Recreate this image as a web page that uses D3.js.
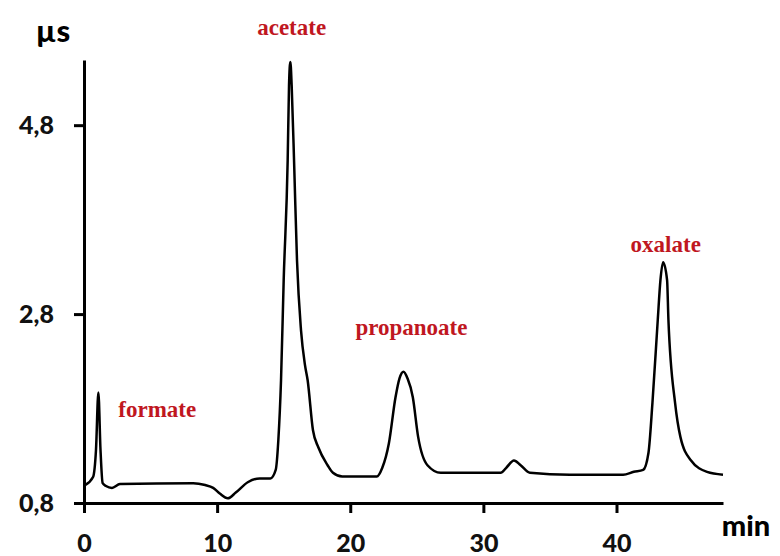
<!DOCTYPE html>
<html lang="en">
<head>
<meta charset="UTF-8">
<title>Chromatogram</title>
<script src="https://cdn.jsdelivr.net/npm/d3@7"></script>
<style>
    body { margin: 0; background: #fff; }
    svg { display: block; }
    .tick text { font-family: Lato, "Open Sans", sans-serif; font-weight: 900; font-size: 25px; fill: #111; }
    .peak { font-family: "Liberation Serif", "DejaVu Serif", serif; font-weight: bold; font-size: 23px; fill: #c0171f; }
</style>
</head>
<body>
<svg id="chart" width="780" height="556"></svg>
<script>
// retention time (min) and conductivity (µS)
const times = [0.08, 0.68, 0.9, 1.08, 1.24, 1.4, 1.65, 2.1, 2.7, 8.2, 9.1, 9.7, 10.2, 10.8, 11.4, 12.3, 13.2, 14.0,
    14.4, 14.6, 14.8, 15.0, 15.3, 15.4, 15.5, 15.6, 15.8, 16.0, 16.3, 16.6, 16.8, 17.2, 17.6, 18.3, 18.7, 19.4,
    22.0, 22.4, 22.9, 23.4, 23.7, 24.0, 24.3, 24.7, 25.1, 25.8, 26.8, 31.3, 31.7, 32.3, 32.8, 33.5, 36.5,
    40.5, 41.3, 42.0, 42.4, 42.7, 43.1, 43.3, 43.5, 43.8, 43.9, 44.4, 44.8, 45.6, 46.8, 48.0];
const signal = [0.99, 1.075, 1.36, 1.97, 1.36, 1.01, 0.98, 0.96, 1.0, 1.01, 0.99, 0.96, 0.90, 0.85, 0.91, 1.02, 1.06, 1.06,
    1.15, 1.47, 2.1, 3.16, 4.43, 5.22, 5.47, 5.22, 4.32, 3.37, 2.63, 2.26, 2.1, 1.57, 1.39, 1.2, 1.12, 1.08,
    1.08, 1.17, 1.43, 1.92, 2.12, 2.19, 2.12, 1.92, 1.50, 1.2, 1.12, 1.12, 1.17, 1.25, 1.2, 1.12, 1.10,
    1.10, 1.13, 1.15, 1.33, 1.86, 2.74, 3.16, 3.35, 3.16, 2.74, 1.86, 1.5, 1.25, 1.13, 1.10];

const xTicks = [0, 10, 20, 30, 40];
const yTicks = [0.8, 2.8, 4.8];

const peakNames = ["formate", "acetate", "propanoate", "oxalate"];
const peakTimes = [5.5, 15.6, 24.6, 43.7];
const peakLabelValues = [1.71, 5.75, 2.58, 3.46];

const margin = {top: 60, left: 84};
const width = 639, height = 443;

const svg = d3.select("#chart");
const g = svg.append("g").attr("transform", `translate(${margin.left},${margin.top})`);

const x = d3.scaleLinear().domain([0, 48]).range([0, width]);
const y = d3.scaleLinear().domain([0.8, 5.49]).range([height, 0]);

const data = times.map((t, i) => ({t: t, v: signal[i]}));

const line = d3.line()
    .x(d => x(d.t))
    .y(d => y(d.v))
    .curve(d3.curveMonotoneX);

g.append("path")
    .datum(data)
    .attr("d", line)
    .attr("fill", "none")
    .attr("stroke", "#000")
    .attr("stroke-width", 2.5)
    .attr("stroke-linejoin", "round");

const xAxis = g.append("g")
    .attr("transform", `translate(0,${height})`)
    .call(d3.axisBottom(x).tickValues(xTicks).tickSize(10).tickSizeOuter(0).tickPadding(21));

const yAxis = g.append("g")
    .call(d3.axisLeft(y).tickValues(yTicks).tickSize(10).tickSizeOuter(0).tickPadding(20)
        .tickFormat(d => d3.format(".1f")(d).replace(".", ",")));

[xAxis, yAxis].forEach(a => {
    a.select(".domain").attr("stroke", "#000").attr("stroke-width", 3);
    a.selectAll(".tick line").attr("stroke", "#000").attr("stroke-width", 3);
});

// axis units
svg.append("text")
    .attr("x", 53).attr("y", 42)
    .attr("text-anchor", "middle")
    .style("font-family", "Lato, 'Open Sans', sans-serif")
    .style("font-weight", "900").style("font-size", "31px")
    .text("µs");

svg.append("text")
    .attr("x", 746).attr("y", 536)
    .attr("text-anchor", "middle")
    .style("font-family", "Lato, 'Open Sans', sans-serif")
    .style("font-weight", "900").style("font-size", "29px")
    .text("min");

// peak names
g.selectAll(".peak")
    .data(peakNames)
    .join("text")
    .attr("class", "peak")
    .attr("text-anchor", "middle")
    .attr("x", (d, i) => x(peakTimes[i]))
    .attr("y", (d, i) => y(peakLabelValues[i]))
    .text(d => d);
</script>
</body>
</html>
